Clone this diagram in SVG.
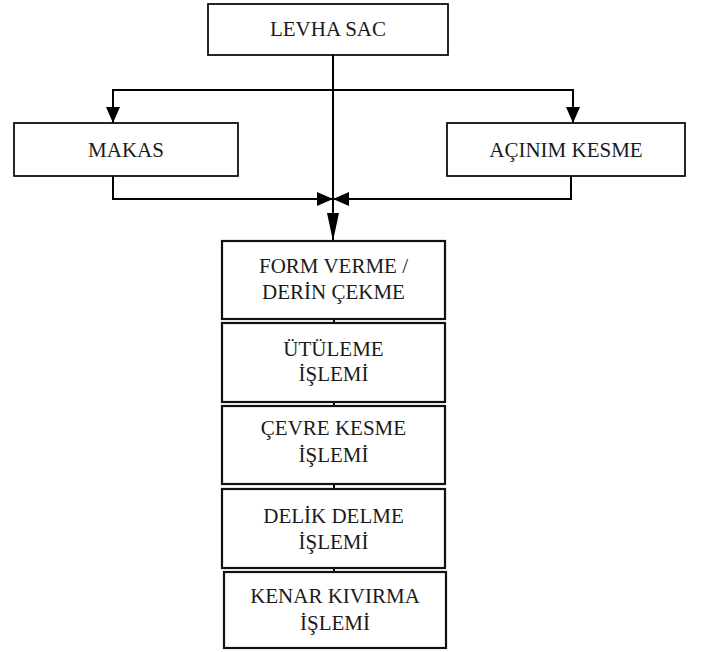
<svg xmlns="http://www.w3.org/2000/svg" width="705" height="652" viewBox="0 0 705 652">
<style>
.box{fill:#fff;stroke:#000;stroke-width:1.7}
.sbox{fill:#fff;stroke:#111;stroke-width:2.2}
.t{font-family:"Liberation Serif","Times New Roman",serif;font-size:21px;fill:#1a1a1a;text-anchor:middle}
.c{fill:none;stroke:#000;stroke-width:2}
</style>
<defs>
<marker id="ah" viewBox="0 0 16 14" refX="16" refY="7" markerWidth="16" markerHeight="14" markerUnits="userSpaceOnUse" orient="auto">
<path d="M0,0 L16,7 L0,14 z" fill="#000"/>
</marker>
<marker id="ahl" viewBox="0 0 28 12" refX="28" refY="6" markerWidth="28" markerHeight="12" markerUnits="userSpaceOnUse" orient="auto">
<path d="M0,0 L28,6 L0,12 z" fill="#000"/>
</marker>
</defs>
<rect width="705" height="652" fill="#fff"/>
<g id="connectors">
<line class="c" x1="333" y1="55" x2="333" y2="241" marker-end="url(#ahl)"/>
<path class="c" d="M333,90 H113 V123" marker-end="url(#ah)"/>
<path class="c" d="M333,90 H573 V123" marker-end="url(#ah)"/>
<path class="c" d="M113,176 V199 H333" marker-end="url(#ah)"/>
<path class="c" d="M571,176 V199 H333" marker-end="url(#ah)"/>
<line class="c" x1="334" y1="319" x2="334" y2="323"/>
<line class="c" x1="334" y1="402" x2="334" y2="406"/>
<line class="c" x1="334" y1="484" x2="334" y2="489"/>
<line class="c" x1="334" y1="568" x2="334" y2="572"/>
</g>
<g id="levha">
<rect class="box" x="208" y="4" width="240" height="51"/>
<text class="t" x="328" y="36">LEVHA SAC</text>
</g>
<g id="makas">
<rect class="box" x="14" y="123" width="224" height="53"/>
<text class="t" x="126" y="157">MAKAS</text>
</g>
<g id="acinim">
<rect class="box" x="447" y="123" width="238" height="53"/>
<text class="t" x="566" y="157">AÇINIM KESME</text>
</g>
<g id="form">
<rect class="sbox" x="222" y="241" width="223" height="78"/>
<text class="t" x="333.5" y="273">FORM VERME /</text>
<text class="t" x="333.5" y="299">DERİN ÇEKME</text>
</g>
<g id="utuleme">
<rect class="sbox" x="222" y="323" width="223" height="79"/>
<text class="t" x="333.5" y="356">ÜTÜLEME</text>
<text class="t" x="333.5" y="381">İŞLEMİ</text>
</g>
<g id="cevre">
<rect class="sbox" x="222" y="406" width="223" height="78"/>
<text class="t" x="333.5" y="435">ÇEVRE KESME</text>
<text class="t" x="333.5" y="462">İŞLEMİ</text>
</g>
<g id="delik">
<rect class="sbox" x="222" y="489" width="223" height="79"/>
<text class="t" x="333.5" y="523">DELİK DELME</text>
<text class="t" x="333.5" y="549">İŞLEMİ</text>
</g>
<g id="kenar">
<rect class="sbox" x="224" y="572" width="222" height="76"/>
<text class="t" x="335" y="603">KENAR KIVIRMA</text>
<text class="t" x="335" y="630">İŞLEMİ</text>
</g>
</svg>
